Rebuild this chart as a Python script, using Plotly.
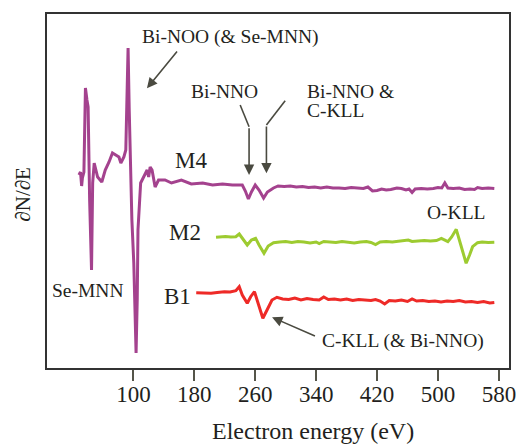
import plotly.graph_objects as go

# Auger spectra (dN/dE, arbitrary units with vertical offsets), energy in eV
m4_energy = [28.5, 30.5, 32, 33, 35, 37, 39, 40.5, 42.5, 43.5, 45, 46.5, 48.5, 53, 58.5, 63, 68,
             72.5, 77, 81, 83.5, 87.5, 90, 91.5, 93, 94.5, 96.5, 98, 100.5, 103.5, 105, 106,
             109.5, 113.5, 118, 120, 122, 124.5, 128.5, 133, 141.5, 150, 163, 176, 191, 204,
             217, 230, 243, 247, 251, 255, 260, 265, 271, 276, 284,
             290, 298, 306, 314, 322, 330, 338, 346, 354, 362, 370, 378, 386, 394, 402, 408,
             414, 420, 426, 432, 438, 446, 452, 458, 462, 466, 470, 478, 486, 494, 500, 505,
             509, 513, 520, 528, 535, 542, 548, 552, 558, 566, 574]
m4_signal = [194, 197, 183, 191, 197, 281, 269, 262, 169, 134, 99, 186, 206, 192, 187, 199, 207,
             216, 214, 212, 206, 212, 219, 279, 321, 259, 186, 149, 106, 16, 69, 139,
             186, 192, 199, 192, 202, 199, 182, 189, 189, 186, 189, 185, 186, 184,
             185, 184, 184, 178, 170, 177, 184, 179, 171, 177, 181,
             183, 182.5, 183, 182, 182.5, 181.5, 182, 181, 182, 181, 181, 180.5, 181.5, 181,
             180.5, 182, 178, 178.5, 180, 179, 179.5, 181, 180.5, 179, 180, 176.5, 180, 180.5,
             180, 180.5, 181.5, 181, 186, 181, 180.5, 181, 179.5, 180, 179.5, 181.5, 180.5,
             181, 180.5]

m2_energy = [208.5, 215, 221, 228, 234.5, 239, 243, 249.5, 255, 260.5, 265, 271.5, 277, 284,
             292, 300, 308, 316, 324, 332, 340, 344, 350, 358, 366, 374, 382, 390, 398, 406,
             412, 418, 424, 432, 440, 448, 456, 461, 466, 474, 482, 490, 498, 504.5, 509, 513,
             518, 524, 530, 537, 541.5, 545.5, 552, 558, 566, 574]
m2_signal = [131.7, 132, 132.5, 132, 132.3, 135, 131, 124, 129, 130.7, 124, 115.7, 123, 126.3,
             127, 127.5, 126.5, 127.5, 127, 126, 127, 125.5, 127.5, 127, 126.5, 127.5, 127,
             126, 127, 127.5, 126.5, 124.5, 127, 127.5, 127, 127.5, 128, 129, 127.5, 128,
             128.5, 128, 128.5, 130.7, 129, 127.3, 132, 139.7, 124, 105.7, 114, 122.3, 126.3,
             127, 126.5, 126.7]

b1_energy = [182.5, 190, 196, 202, 210, 219.5, 227, 234.5, 239, 243, 249.5, 254, 259, 265, 270,
             275.5, 282, 288.5, 296, 304, 312, 320, 328, 336, 344, 350, 356, 364, 372, 380,
             388, 396, 404, 412, 418, 424, 430, 436, 444, 452, 460, 466, 472, 480, 488, 496,
             504, 512, 520, 528, 536, 544, 552, 560, 568, 574]
b1_signal = [76.3, 76, 76.5, 75.7, 76.5, 77.3, 77, 78.3, 82.3, 74, 65.7, 72.3, 77.3, 62.3, 50.7,
             59, 69, 71.7, 70, 69.5, 71, 69, 70.5, 69.5, 69, 72, 69.5, 70, 69, 70,
             68.5, 69.5, 69, 68.5, 69.5, 68, 65, 68.5, 68, 69, 67.5, 70, 68, 68.5, 67.5, 68,
             67, 68, 67.5, 68.5, 67, 67.5, 66.5, 67.5, 66, 66.5]

tick_values = [100, 180, 260, 340, 420, 500, 580]

PURPLE = "#a4428e"
GREEN = "#9dcb30"
RED = "#ee2a27"
ARROW = "#4a4a40"
TEXT = "#231f20"
FONT = "Liberation Serif"

fig = go.Figure()
for xs, ys, col in [(m4_energy, m4_signal, PURPLE),
                    (m2_energy, m2_signal, GREEN),
                    (b1_energy, b1_signal, RED)]:
    fig.add_trace(go.Scatter(x=xs, y=ys, mode="lines",
                             line=dict(color=col, width=3, shape="linear"),
                             showlegend=False, hoverinfo="skip"))

def label(x, y, text, size=19.5, xanchor="center"):
    fig.add_annotation(x=x, y=y, text=text, showarrow=False, xanchor=xanchor,
                       yanchor="middle", font=dict(family=FONT, size=size, color=TEXT))

def arrow(x0, y0, x1, y1):
    fig.add_annotation(x=x1, y=y1, ax=x0, ay=y0, xref="x", yref="y", axref="x", ayref="y",
                       text="", showarrow=True, arrowhead=2, arrowsize=1.3, arrowwidth=1.6,
                       arrowcolor=ARROW)

def segment(x0, y0, x1, y1):
    fig.add_shape(type="line", x0=x0, y0=y0, x1=x1, y1=y1, xref="x", yref="y",
                  line=dict(color=ARROW, width=1.6))

# Peak labels
label(228, 332.3, "Bi-NOO (&amp; Se-MNN)")
arrow(158.9, 319, 117.8, 280.7)

label(219.5, 278, "Bi-NNO")
segment(240.2, 264, 251.9, 242.3)
arrow(251.9, 242.3, 251.9, 194)

label(324.9, 278, "Bi-NNO &amp;", xanchor="left")
label(324.9, 259, "C-KLL", xanchor="left")
segment(299.3, 268.3, 274.7, 244)
arrow(274.7, 244, 274.7, 195.7)

label(39.7, 79, "Se-MNN")
label(524.2, 157, "O-KLL")
label(453.9, 28, "C-KLL (&amp; Bi-NNO)")
arrow(340.4, 32.3, 282.1, 51.7)

# Sample names
label(175.8, 209, "M4", size=23)
label(168.4, 137, "M2", size=23)
label(158, 73, "B1", size=23)

# Axis titles
fig.add_annotation(x=0.5755, y=-0.174, xref="paper", yref="paper", text="Electron energy (eV)",
                   showarrow=False, xanchor="center", yanchor="middle",
                   font=dict(family=FONT, size=24, color=TEXT))
fig.add_annotation(x=-0.05, y=0.492, xref="paper", yref="paper", text="∂N/∂E", textangle=-90,
                   showarrow=False, xanchor="center", yanchor="middle",
                   font=dict(family=FONT, size=21, color=TEXT))

# Frame
fig.add_shape(type="rect", xref="paper", yref="paper", x0=0, y0=0, x1=1, y1=1,
              line=dict(color="#333333", width=2))

fig.update_layout(
    width=525, height=444,
    margin=dict(l=46, r=9, t=13, b=75),
    paper_bgcolor="white", plot_bgcolor="white",
    xaxis=dict(range=[-14.8, 594.6], tickvals=tick_values, ticks="outside", ticklen=11,
               tickwidth=2, tickcolor="#55554a", showgrid=False, zeroline=False,
               showline=False, ticklabelstandoff=-7,
               tickfont=dict(family=FONT, size=23, color=TEXT)),
    yaxis=dict(range=[0, 356], showticklabels=False, ticks="", showgrid=False,
               zeroline=False, showline=False),
)

fig.write_html("out.html")
